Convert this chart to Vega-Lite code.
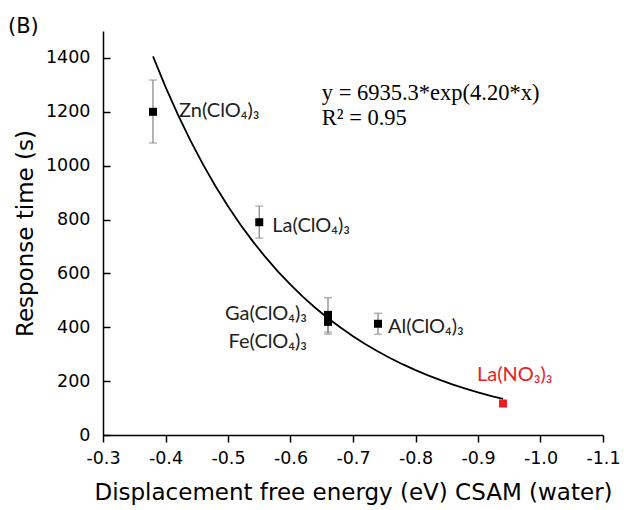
{
  "$schema": "https://vega.github.io/schema/vega-lite/v6.json",
  "width": 500,
  "height": 404,
  "autosize": "none",
  "padding": {"left": 103, "top": 31, "right": 21, "bottom": 75},
  "background": "white",
  "title": {"text": "(B)", "anchor": "start", "frame": "group", "dx": -95, "offset": -6, "font": "DejaVu Sans", "fontSize": 21, "fontWeight": "normal", "color": "black"},
  "config": {
    "view": {"stroke": null},
    "axis": {"domainColor": "black", "tickColor": "black", "labelColor": "black", "titleColor": "black", "grid": false, "domainWidth": 1.5, "tickWidth": 1.5, "labelFont": "DejaVu Sans", "labelFontSize": 17.5, "titleFont": "DejaVu Sans", "titleFontSize": 23, "titleFontWeight": "normal"}
  },
  "datasets": {
    "pts": [
      {"name": "Zn", "e": -0.38, "t": 1200, "lo": 1084, "hi": 1318, "kind": "ClO4"},
      {"name": "LaClO4", "e": -0.55, "t": 790, "lo": 731, "hi": 850, "kind": "ClO4"},
      {"name": "Ga", "e": -0.66, "t": 446, "lo": 382, "hi": 510, "kind": "ClO4"},
      {"name": "Fe", "e": -0.66, "t": 420, "lo": 375, "hi": 452, "kind": "ClO4"},
      {"name": "Al", "e": -0.74, "t": 413, "lo": 374, "hi": 452, "kind": "ClO4"},
      {"name": "LaNO3", "e": -0.94, "t": 117, "lo": null, "hi": null, "kind": "NO3"}
    ],
    "curve": [
      {"e": -0.38, "t": 1405.9}, {"e": -0.40, "t": 1292.5}, {"e": -0.42, "t": 1188.4}, {"e": -0.44, "t": 1092.7},
      {"e": -0.46, "t": 1004.6}, {"e": -0.48, "t": 923.7}, {"e": -0.50, "t": 849.3}, {"e": -0.52, "t": 780.9},
      {"e": -0.54, "t": 717.9}, {"e": -0.56, "t": 660.1}, {"e": -0.58, "t": 606.9}, {"e": -0.60, "t": 558.0},
      {"e": -0.62, "t": 513.1}, {"e": -0.64, "t": 471.7}, {"e": -0.66, "t": 433.7}, {"e": -0.68, "t": 398.8},
      {"e": -0.70, "t": 366.7}, {"e": -0.72, "t": 337.1}, {"e": -0.74, "t": 310.0}, {"e": -0.76, "t": 285.0},
      {"e": -0.78, "t": 262.0}, {"e": -0.80, "t": 240.9}, {"e": -0.82, "t": 221.5}, {"e": -0.84, "t": 203.7},
      {"e": -0.86, "t": 187.3}, {"e": -0.88, "t": 172.2}, {"e": -0.90, "t": 158.3}, {"e": -0.92, "t": 145.6},
      {"e": -0.94, "t": 133.8}
    ],
    "labels": [
      {"name": "Zn", "e": -0.38, "t": 1200, "label": "Zn(ClO₄)₃"},
      {"name": "LaClO4", "e": -0.55, "t": 790, "label": "La(ClO₄)₃"},
      {"name": "Ga", "e": -0.66, "t": 446, "label": "Ga(ClO₄)₃"},
      {"name": "Fe", "e": -0.66, "t": 420, "label": "Fe(ClO₄)₃"},
      {"name": "Al", "e": -0.74, "t": 413, "label": "Al(ClO₄)₃"},
      {"name": "LaNO3", "e": -0.94, "t": 117, "label": "La(NO₃)₃"}
    ],
    "fit": [
      {"e": -0.65, "t": 1268, "lines": ["y = 6935.3*exp(4.20*x)", "R² = 0.95"]}
    ]
  },
  "layer": [
    {
      "data": {"name": "curve"},
      "mark": {"type": "line", "color": "black", "strokeWidth": 1.8},
      "encoding": {
        "x": {"field": "e", "type": "quantitative",
          "scale": {"domain": [-1.1, -0.3], "reverse": true, "nice": false, "zero": false},
          "axis": {"title": "Displacement free energy (eV) CSAM (water)",
            "values": [-0.3, -0.35, -0.4, -0.45, -0.5, -0.55, -0.6, -0.65, -0.7, -0.75, -0.8, -0.85, -0.9, -0.95, -1.0, -1.05, -1.1],
            "labelExpr": "abs(round(datum.value*20)) % 2 == 0 ? replace(format(datum.value, '.1f'), '\u2212', '-') : ''",
            "tickSize": {"condition": {"test": "abs(round(datum.value*20)) % 2 == 0", "value": 7}, "value": 4},
            "labelPadding": 7, "titlePadding": 15, "labelFlush": false, "labelOverlap": false}},
        "y": {"field": "t", "type": "quantitative",
          "scale": {"domain": [0, 1500], "nice": false},
          "axis": {"title": "Response time (s)",
            "values": [0, 100, 200, 300, 400, 500, 600, 700, 800, 900, 1000, 1100, 1200, 1300, 1400, 1500],
            "labelExpr": "datum.value % 200 == 0 ? format(datum.value, 'd') : ''",
            "tickSize": {"condition": {"test": "datum.value % 200 == 0", "value": -7}, "value": -4},
            "labelPadding": 20, "titlePadding": 8, "labelFlush": false, "labelOverlap": false}}
      }
    },
    {
      "data": {"name": "pts"},
      "transform": [{"filter": "datum.lo != null"}],
      "mark": {"type": "errorbar", "ticks": {"size": 8}, "color": "#8a8a8a", "thickness": 1.3},
      "encoding": {
        "x": {"field": "e", "type": "quantitative", "title": "Displacement free energy (eV) CSAM (water)"},
        "y": {"field": "lo", "type": "quantitative", "title": "Response time (s)"},
        "y2": {"field": "hi"}
      }
    },
    {
      "data": {"name": "pts"},
      "mark": {"type": "square", "filled": true, "size": 64, "opacity": 1},
      "encoding": {
        "x": {"field": "e", "type": "quantitative"},
        "y": {"field": "t", "type": "quantitative"},
        "color": {"field": "kind", "type": "nominal", "scale": {"domain": ["ClO4", "NO3"], "range": ["black", "#ec1c24"]}, "legend": null}
      }
    },
    {
      "data": {"name": "labels"},
      "transform": [{"filter": "datum.name == 'Zn'"}],
      "mark": {"type": "text", "align": "left", "baseline": "middle", "dx": 26, "dy": -1, "font": "Lato", "fontSize": 20, "color": "#222"},
      "encoding": {"x": {"field": "e", "type": "quantitative"}, "y": {"field": "t", "type": "quantitative"}, "text": {"field": "label"}}
    },
    {
      "data": {"name": "labels"},
      "transform": [{"filter": "datum.name == 'LaClO4'"}],
      "mark": {"type": "text", "align": "left", "baseline": "middle", "dx": 13, "dy": 4, "font": "Lato", "fontSize": 20, "color": "#222"},
      "encoding": {"x": {"field": "e", "type": "quantitative"}, "y": {"field": "t", "type": "quantitative"}, "text": {"field": "label"}}
    },
    {
      "data": {"name": "labels"},
      "transform": [{"filter": "datum.name == 'Ga'"}],
      "mark": {"type": "text", "align": "right", "baseline": "middle", "dx": -21, "dy": -1, "font": "Lato", "fontSize": 20, "color": "#222"},
      "encoding": {"x": {"field": "e", "type": "quantitative"}, "y": {"field": "t", "type": "quantitative"}, "text": {"field": "label"}}
    },
    {
      "data": {"name": "labels"},
      "transform": [{"filter": "datum.name == 'Fe'"}],
      "mark": {"type": "text", "align": "right", "baseline": "middle", "dx": -21, "dy": 20, "font": "Lato", "fontSize": 20, "color": "#222"},
      "encoding": {"x": {"field": "e", "type": "quantitative"}, "y": {"field": "t", "type": "quantitative"}, "text": {"field": "label"}}
    },
    {
      "data": {"name": "labels"},
      "transform": [{"filter": "datum.name == 'Al'"}],
      "mark": {"type": "text", "align": "left", "baseline": "middle", "dx": 10, "dy": 3, "font": "Lato", "fontSize": 20, "color": "#222"},
      "encoding": {"x": {"field": "e", "type": "quantitative"}, "y": {"field": "t", "type": "quantitative"}, "text": {"field": "label"}}
    },
    {
      "data": {"name": "labels"},
      "transform": [{"filter": "datum.name == 'LaNO3'"}],
      "mark": {"type": "text", "align": "left", "baseline": "middle", "dx": -26, "dy": -28, "font": "Lato", "fontSize": 20, "color": "#ec1c24"},
      "encoding": {"x": {"field": "e", "type": "quantitative"}, "y": {"field": "t", "type": "quantitative"}, "text": {"field": "label"}}
    },
    {
      "data": {"name": "fit"},
      "mark": {"type": "text", "align": "left", "baseline": "middle", "font": "Liberation Serif", "fontSize": 22.5, "lineHeight": 25, "color": "black"},
      "encoding": {
        "x": {"field": "e", "type": "quantitative"},
        "y": {"field": "t", "type": "quantitative"},
        "text": {"field": "lines"}
      }
    }
  ]
}
